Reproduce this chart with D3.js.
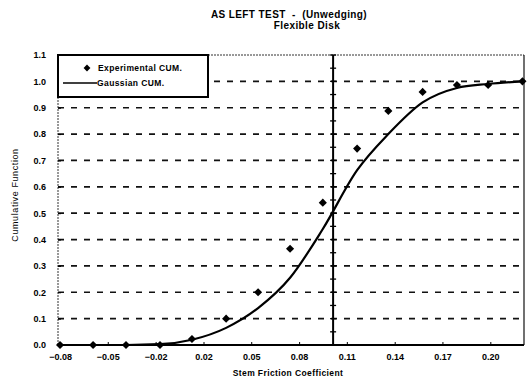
<!DOCTYPE html>
<html>
<head>
<meta charset="utf-8">
<script src="https://cdn.jsdelivr.net/npm/d3@7"></script>
<style>
  body { margin: 0; background: #fff; }
  svg { display: block; font-family: 'Liberation Sans', Arial, sans-serif; }
</style>
</head>
<body>
<svg width="529" height="378"></svg>
<script>
// experimental cumulative points (x = stem friction coefficient)
const expX = [-0.0775, -0.0563, -0.0352, -0.0134, 0.0071, 0.029, 0.0495, 0.070, 0.091, 0.113, 0.133, 0.155, 0.177, 0.197, 0.219];
const expY = [0, 0, 0, 0, 0.023, 0.10, 0.20, 0.365, 0.54, 0.745, 0.888, 0.96, 0.986, 0.986, 1.0];

// gaussian cumulative curve, read at the same x positions
const gaussY = [0, 0, 0, 0.003, 0.02, 0.065, 0.14, 0.255, 0.44, 0.663, 0.80, 0.92, 0.975, 0.99, 1.0];

const meanX = 0.0976;

const xTickValues = [-0.0775, -0.0469, -0.0162, 0.0145, 0.0451, 0.0758, 0.1064, 0.1371, 0.1677, 0.1984];
const xTickLabels = ['\u22120.08', '\u22120.05', '\u22120.02', '0.02', '0.05', '0.08', '0.11', '0.14', '0.17', '0.20'];
const yTickValues = [0, 0.1, 0.2, 0.3, 0.4, 0.5, 0.6, 0.7, 0.8, 0.9, 1.0, 1.1];
const gridValues = [0.1, 0.2, 0.3, 0.4, 0.5, 0.6, 0.7, 0.8, 0.9, 1.0];

const svg = d3.select('svg');
const mLeft = 58, mRight = 524, mTop = 55, mBottom = 345;

const x = d3.scaleLinear().domain([-0.0788, 0.2200]).range([mLeft, mRight]);
const y = d3.scaleLinear().domain([0, 1.1]).range([mBottom, mTop]);

// titles
svg.append('text')
    .attr('x', 289).attr('y', 18)
    .attr('text-anchor', 'middle')
    .attr('font-size', 10).attr('font-weight', 'bold')
    .attr('letter-spacing', 0.4)
    .attr('xml:space', 'preserve')
    .text('AS LEFT TEST  -  (Unwedging)');
svg.append('text')
    .attr('x', 307).attr('y', 29)
    .attr('text-anchor', 'middle')
    .attr('font-size', 10).attr('font-weight', 'bold')
    .attr('letter-spacing', 0.4)
    .text('Flexible Disk');

// grid lines
svg.append('g')
    .selectAll('line')
    .data(gridValues)
    .enter().append('line')
    .attr('x1', mLeft).attr('x2', mRight)
    .attr('y1', d => y(d)).attr('y2', d => y(d))
    .attr('stroke', '#111')
    .attr('stroke-width', 1.7)
    .attr('stroke-dasharray', '6,7');

// frame
svg.append('line')
    .attr('x1', mLeft).attr('x2', mRight).attr('y1', mTop).attr('y2', mTop)
    .attr('stroke', '#333').attr('stroke-width', 1).attr('stroke-dasharray', '2,1');
svg.append('line')
    .attr('x1', mLeft).attr('x2', mLeft).attr('y1', mTop).attr('y2', mBottom)
    .attr('stroke', '#333').attr('stroke-width', 1).attr('stroke-dasharray', '2,1');
svg.append('line')
    .attr('x1', mRight).attr('x2', mRight).attr('y1', mTop).attr('y2', mBottom)
    .attr('stroke', '#111').attr('stroke-width', 1.2);

// y axis
const yAxis = d3.axisLeft(y)
    .tickValues(yTickValues)
    .tickSize(-3)
    .tickPadding(12)
    .tickFormat(d3.format('.1f'));
const gy = svg.append('g')
    .attr('transform', `translate(${mLeft},0)`)
    .call(yAxis);
gy.select('.domain').remove();
gy.selectAll('text')
    .attr('font-size', 9).attr('font-weight', 'bold')
    .attr('font-family', "'Liberation Sans', Arial, sans-serif")
    .attr('fill', '#000');

// x axis
const xAxis = d3.axisBottom(x)
    .tickValues(xTickValues)
    .tickSize(-3)
    .tickPadding(9)
    .tickFormat((d, i) => xTickLabels[i]);
const gx = svg.append('g')
    .attr('transform', `translate(0,${mBottom})`)
    .call(xAxis);
gx.select('.domain')
    .attr('d', `M${mLeft},0H${mRight}`)
    .attr('stroke', '#000').attr('stroke-width', 2);
gx.selectAll('text')
    .attr('font-size', 9).attr('font-weight', 'bold')
    .attr('font-family', "'Liberation Sans', Arial, sans-serif")
    .attr('fill', '#000');

// axis titles
svg.append('text')
    .attr('x', 288).attr('y', 376)
    .attr('text-anchor', 'middle')
    .attr('font-size', 8.5).attr('font-weight', 'bold')
    .attr('letter-spacing', 0.4)
    .text('Stem Friction Coefficient');
svg.append('text')
    .attr('transform', 'translate(18,195) rotate(-90)')
    .attr('text-anchor', 'middle')
    .attr('font-size', 9)
    .attr('letter-spacing', 0.6)
    .text('Cumulative Function');

// vertical mean line with small markers
svg.append('line')
    .attr('x1', x(meanX)).attr('x2', x(meanX))
    .attr('y1', y(0)).attr('y2', y(1.1))
    .attr('stroke', '#000').attr('stroke-width', 2);
svg.append('g')
    .selectAll('line')
    .data(d3.range(0, 23).map(i => i * 0.05))
    .enter().append('line')
    .attr('x1', x(meanX) - 3).attr('x2', x(meanX) + 3)
    .attr('y1', d => y(d)).attr('y2', d => y(d))
    .attr('stroke', '#000').attr('stroke-width', 1.3);

// gaussian curve
const line = d3.line()
    .x((d, i) => x(expX[i]))
    .y(d => y(d))
    .curve(d3.curveMonotoneX);
svg.append('path')
    .datum(gaussY)
    .attr('d', line)
    .attr('fill', 'none')
    .attr('stroke', '#000')
    .attr('stroke-width', 2.2);

// experimental diamonds
const diamond = d3.symbol().type(d3.symbolDiamond2).size(42);
svg.append('g')
    .selectAll('path')
    .data(expY)
    .enter().append('path')
    .attr('d', diamond)
    .attr('transform', (d, i) => `translate(${x(expX[i])},${y(d)})`)
    .attr('fill', '#000');

// legend
const lg = svg.append('g');
lg.append('rect')
    .attr('x', 58).attr('y', 55).attr('width', 150).attr('height', 42)
    .attr('fill', '#fff').attr('stroke', '#000').attr('stroke-width', 2);
lg.append('path')
    .attr('d', d3.symbol().type(d3.symbolDiamond2).size(30))
    .attr('transform', 'translate(87,68)')
    .attr('fill', '#000');
lg.append('text')
    .attr('x', 98).attr('y', 71)
    .attr('font-size', 8.5).attr('font-weight', 'bold')
    .attr('letter-spacing', 0.4)
    .text('Experimental CUM.');
lg.append('line')
    .attr('x1', 63).attr('x2', 97).attr('y1', 83).attr('y2', 83)
    .attr('stroke', '#000').attr('stroke-width', 1.5);
lg.append('text')
    .attr('x', 97).attr('y', 86)
    .attr('font-size', 8.5).attr('font-weight', 'bold')
    .attr('letter-spacing', 0.4)
    .text('Gaussian CUM.');
</script>
</body>
</html>
